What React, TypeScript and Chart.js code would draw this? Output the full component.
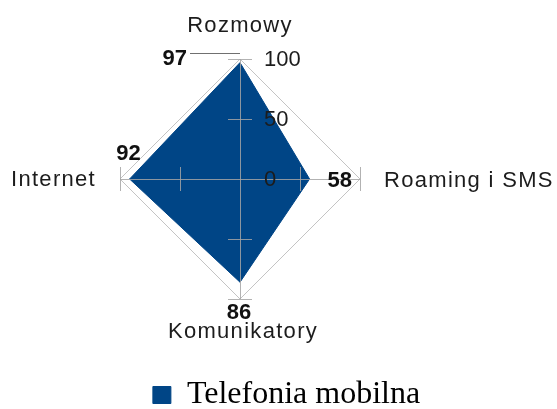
import React, { useEffect, useRef } from 'react';
import { Chart, registerables } from 'chart.js';

Chart.register(...registerables);

// ---- data ----
const categories = ['Rozmowy', 'Roaming i SMS', 'Komunikatory', 'Internet'];
const seriesName = 'Telefonia mobilna';
const seriesValues = [97, 58, 86, 92];
const tickValues = [0, 50, 100];

// ---- styles ----
const FILL = '#004586';
const SANS = '"Liberation Sans", Arial, sans-serif';
const SERIF = '"Liberation Serif", "Times New Roman", serif';
const TEXT = '#1c1c1c';
const AXIS = 'rgba(165,165,165,0.85)';

// label placement per category (distance beyond outer ring, alignment, offsets)
const pointLabelPlacement = [
  { extra: 27, align: 'center', dx: 0, dy: 0 },
  { extra: 24, align: 'left', dx: 0, dy: 8 },
  { extra: 39, align: 'center', dx: 3, dy: 0 },
  { extra: 24, align: 'right', dx: 0, dy: 7 },
];
const valueLabelPlacement = [
  { align: 'right', dx: -53, dy: 2.4 },
  { align: 'left', dx: 18, dy: 8 },
  { align: 'center', dx: -1, dy: 37 },
  { align: 'center', dx: -1, dy: -19 },
];

const crisp = (v: number) => Math.round(v) + 0.5;

const overlayPlugin = {
  id: 'radarOverlay',
  afterDatasetsDraw(chart: any) {
    const s = chart.scales.r;
    const ctx = chart.ctx as CanvasRenderingContext2D;
    const cx = s.xCenter;
    const cy = s.yCenter;
    const R = s.drawingArea;
    ctx.save();

    // axis (angle) lines drawn over the fill
    ctx.strokeStyle = AXIS;
    ctx.lineWidth = 1;
    categories.forEach((_, i) => {
      const p = s.getPointPosition(i, R);
      ctx.beginPath();
      if (Math.abs(p.x - cx) < 0.5) {
        ctx.moveTo(crisp(cx), cy);
        ctx.lineTo(crisp(cx), p.y);
      } else if (Math.abs(p.y - cy) < 0.5) {
        ctx.moveTo(cx, crisp(cy));
        ctx.lineTo(p.x, crisp(cy));
      } else {
        ctx.moveTo(cx, cy);
        ctx.lineTo(p.x, p.y);
      }
      ctx.stroke();
    });

    // tick marks across each axis
    const half = 12;
    tickValues.filter((v) => v > 0).forEach((v) => {
      categories.forEach((_, i) => {
        const p = s.getPointPositionForValue(i, v);
        const a = s.getIndexAngle(i) - Math.PI / 2;
        const px = -Math.sin(a);
        const py = Math.cos(a);
        ctx.beginPath();
        if (Math.abs(py) < 0.01) {
          ctx.moveTo(p.x - half, crisp(p.y));
          ctx.lineTo(p.x + half, crisp(p.y));
        } else if (Math.abs(px) < 0.01) {
          ctx.moveTo(crisp(p.x), p.y - half);
          ctx.lineTo(crisp(p.x), p.y + half);
        } else {
          ctx.moveTo(p.x - half * px, p.y - half * py);
          ctx.lineTo(p.x + half * px, p.y + half * py);
        }
        ctx.stroke();
      });
    });

    // tick labels, to the right of the vertical axis
    ctx.fillStyle = TEXT;
    ctx.font = `22px ${SANS}`;
    ctx.textAlign = 'left';
    ctx.textBaseline = 'middle';
    tickValues.forEach((v) => {
      const p = s.getPointPositionForValue(0, v);
      ctx.fillText(String(v), cx + 24, p.y + 1);
    });

    // value labels
    ctx.font = `bold 22px ${SANS}`;
    ctx.fillStyle = '#111';
    ctx.textBaseline = 'alphabetic';
    const meta = chart.getDatasetMeta(0);
    meta.data.forEach((pt: any, i: number) => {
      const pl = valueLabelPlacement[i];
      ctx.textAlign = pl.align as CanvasTextAlign;
      ctx.fillText(String(seriesValues[i]), pt.x + pl.dx, pt.y + pl.dy);
      if (i === 0) {
        // leader line for the top label
        ctx.strokeStyle = '#707070';
        ctx.beginPath();
        ctx.moveTo(pt.x - 50, crisp(pt.y - 10));
        ctx.lineTo(pt.x, crisp(pt.y - 10));
        ctx.stroke();
      }
    });

    // category labels
    ctx.font = `22px ${SANS}`;
    ctx.fillStyle = TEXT;
    (ctx as any).letterSpacing = '1.3px';
    categories.forEach((label, i) => {
      const pl = pointLabelPlacement[i];
      const p = s.getPointPosition(i, R + pl.extra);
      ctx.textAlign = pl.align as CanvasTextAlign;
      ctx.fillText(label, p.x + pl.dx, p.y + pl.dy);
    });
    (ctx as any).letterSpacing = '0px';

    ctx.restore();
  },
};

export default function App() {
  const ref = useRef<HTMLCanvasElement | null>(null);

  useEffect(() => {
    if (!ref.current) return;
    const chart = new Chart(ref.current, {
      type: 'radar',
      data: {
        labels: categories,
        datasets: [
          {
            label: seriesName,
            data: seriesValues,
            fill: true,
            backgroundColor: FILL,
            borderColor: FILL,
            borderWidth: 1,
            pointRadius: 0,
            pointHoverRadius: 0,
            tension: 0,
          },
        ],
      },
      options: {
        responsive: false,
        animation: false,
        layout: { padding: { left: 16, right: 0, top: 59, bottom: -12 } },
        scales: {
          r: {
            min: 0,
            max: 100,
            beginAtZero: true,
            ticks: { display: false, stepSize: 50 },
            pointLabels: { display: false },
            angleLines: { display: false },
            grid: { color: '#c4c4c4', lineWidth: 1, circular: false },
          },
        },
        plugins: {
          tooltip: { enabled: false },
          title: {
            display: true,
            position: 'right',
            fullSize: false,
            text: ' ',
            font: { size: 12 },
            padding: { top: 0, bottom: 78.6 },
          },
          legend: {
            display: true,
            position: 'bottom',
            labels: {
              font: { family: SERIF, size: 32 },
              color: '#000',
              boxWidth: 18,
              boxHeight: 17,
              padding: 80,
            },
          },
        },
      },
      plugins: [overlayPlugin],
    });
    return () => chart.destroy();
  }, []);

  return (
    <div style={{ position: 'fixed', left: 0, top: 0, width: 557, height: 409, background: '#fff' }}>
      <canvas ref={ref} width={557} height={409} style={{ display: 'block' }} />
    </div>
  );
}
